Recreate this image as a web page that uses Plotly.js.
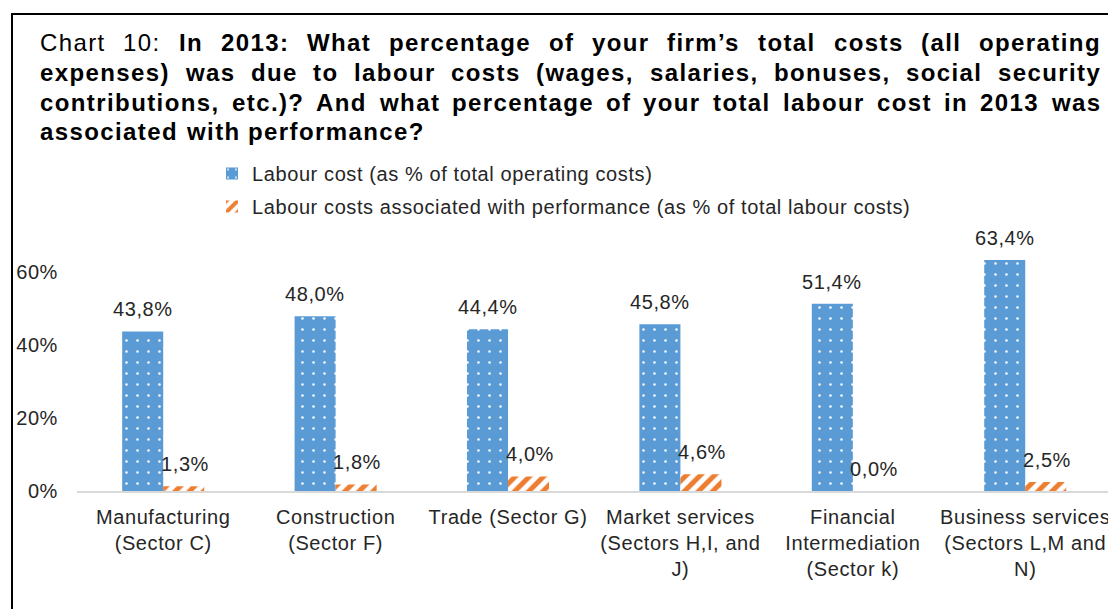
<!DOCTYPE html>
<html>
<head>
<meta charset="utf-8">
<script src="https://cdn.plot.ly/plotly-3.0.1.min.js"></script>
<style>
  html, body { margin: 0; padding: 0; background: #fff; }
  #chart { width: 1108px; height: 609px; }
  text { letter-spacing: 0.6px; }
</style>
</head>
<body>
<div id="chart"></div>
<script>
// ---- data ----
const categories = [
  "Manufacturing<br>(Sector C)",
  "Construction<br>(Sector F)",
  "Trade (Sector G)",
  "Market services<br>(Sectors H,I, and<br>J)",
  "Financial<br>Intermediation<br>(Sector k)",
  "Business services<br>(Sectors L,M and<br>N)"
];
const labourCost = [43.8, 48.0, 44.4, 45.8, 51.4, 63.4];
const perfCost = [1.3, 1.8, 4.0, 4.6, 0.0, 2.5];
const seriesNames = [
  "Labour cost (as % of total operating costs)",
  "Labour costs associated with performance (as % of total labour costs)"
];
const yTickVals = [0, 20, 40, 60];
const yTickText = ["0%", "20%", "40%", "60%"];
const titlePrefix = ["Chart", "10:"];
const titleLines = [
  "In 2013: What percentage of your firm’s total costs (all operating",
  "expenses) was due to labour costs (wages, salaries, bonuses, social security",
  "contributions, etc.)? And what percentage of your total labour cost in 2013 was",
  "associated with performance?"
];

// ---- geometry ----
const W = 1108, H = 609;
const M = { l: 77, r: 0, t: 236, b: 118, autoexpand: false };
const plotW = W - M.l - M.r, plotH = H - M.t - M.b;
const px2x = px => (px - M.l) / plotW;
const py2y = py => (H - M.b - py) / plotH;

const FONT = "Liberation Sans, Arial, sans-serif";
const TXT = "#262626";
const BLUE = "#5B9BD5", ORANGE = "#ED7D31";

function fmt(v) { return v.toFixed(1).replace(".", ",") + "%"; }

// ---- justified title built word by word ----
const TFS = 24, TLS = 1.4;
const cv = document.createElement("canvas").getContext("2d");
function measure(t, bold) {
  cv.font = (bold ? "bold " : "") + TFS + "px 'Liberation Sans'";
  return cv.measureText(t).width + t.length * TLS;
}
const annotations = [];
const titleLeft = 40, titleRight = 1101;
const lineY = [42, 72, 102, 132];
titleLines.forEach((line, li) => {
  let words = line.split(" ").map(w => ({ t: w, b: true }));
  if (li === 0) words = titlePrefix.map(w => ({ t: w, b: false })).concat(words);
  words.forEach(w => w.w = measure(w.t, w.b));
  const sumW = words.reduce((s, w) => s + w.w, 0);
  const justify = li < titleLines.length - 1;
  const gap = justify ? (titleRight - titleLeft - sumW) / (words.length - 1) : measure(" ", true);
  let x = titleLeft;
  words.forEach(w => {
    const inner = w.b ? "<b>" + w.t + "</b>" : w.t;
    annotations.push({
      text: '<span style="letter-spacing:' + TLS + 'px">' + inner + '</span>',
      xref: "paper", yref: "paper",
      x: px2x(x - 1), y: py2y(lineY[li]),
      xanchor: "left", yanchor: "middle",
      showarrow: false, borderpad: 0,
      font: { family: FONT, size: TFS, color: "#000" }
    });
    x += w.w + gap;
  });
});

// ---- data labels ----
const unitPx = plotW / 5.98;
const barOff = unitPx * 0.119;
categories.forEach((c, i) => {
  annotations.push({
    x: c, y: labourCost[i], xref: "x", yref: "y",
    text: fmt(labourCost[i]), showarrow: false,
    xshift: -barOff, yshift: 22, yanchor: "middle",
    font: { family: FONT, size: 20, color: TXT }
  });
  annotations.push({
    x: c, y: perfCost[i], xref: "x", yref: "y",
    text: fmt(perfCost[i]), showarrow: false,
    xshift: barOff + 1, yshift: 22, yanchor: "middle",
    font: { family: FONT, size: 20, color: TXT }
  });
});

const traces = [
  {
    type: "bar", x: categories, y: labourCost, name: seriesNames[0], legendgroup: "a",
    marker: {
      color: BLUE,
      line: { width: 0 },
      pattern: { shape: ".", bgcolor: BLUE, fgcolor: "#ffffff", size: 11, solidity: 0.04 }
    },
    hoverinfo: "skip"
  },
  {
    type: "bar", x: categories, y: perfCost, name: seriesNames[1], legendgroup: "b",
    marker: {
      color: ORANGE,
      line: { width: 0 },
      pattern: { shape: "/", bgcolor: "#ffffff", fgcolor: ORANGE, size: 10, solidity: 0.5 }
    },
    hoverinfo: "skip"
  }
];

const layout = {
  width: W, height: H,
  margin: M,
  paper_bgcolor: "#ffffff", plot_bgcolor: "#ffffff",
  font: { family: FONT, size: 20, color: TXT },
  barmode: "group", bargap: 0.524, bargroupgap: 0,
  showlegend: true,
  legend: {
    xref: "container", yref: "container",
    x: 212 / W, y: 1 - 154 / H, xanchor: "left", yanchor: "top",
    font: { family: FONT, size: 20, color: TXT },
    bgcolor: "rgba(0,0,0,0)", traceorder: "grouped", tracegroupgap: 4
  },
  xaxis: {
    type: "category", range: [-0.5, 5.48],
    showline: true, linecolor: "#d9d9d9", linewidth: 1.5,
    showgrid: false, zeroline: false, ticks: "", tickangle: 0,
    tickfont: { family: FONT, size: 20, color: TXT },
    ticklabelstandoff: 7, fixedrange: true
  },
  yaxis: {
    range: [0, 70], tickvals: yTickVals, ticktext: yTickText,
    showgrid: false, zeroline: false, showline: false, ticks: "",
    tickfont: { family: FONT, size: 20, color: TXT },
    ticklabelstandoff: 18, fixedrange: true
  },
  annotations: annotations,
  shapes: [{
    type: "rect", xref: "paper", yref: "paper",
    x0: px2x(12), x1: px2x(1125), y0: py2y(630), y1: py2y(14),
    line: { color: "#000000", width: 2 }, fillcolor: "rgba(0,0,0,0)"
  }]
};

Plotly.newPlot("chart", traces, layout, { displayModeBar: false, staticPlot: true });
</script>
</body>
</html>
